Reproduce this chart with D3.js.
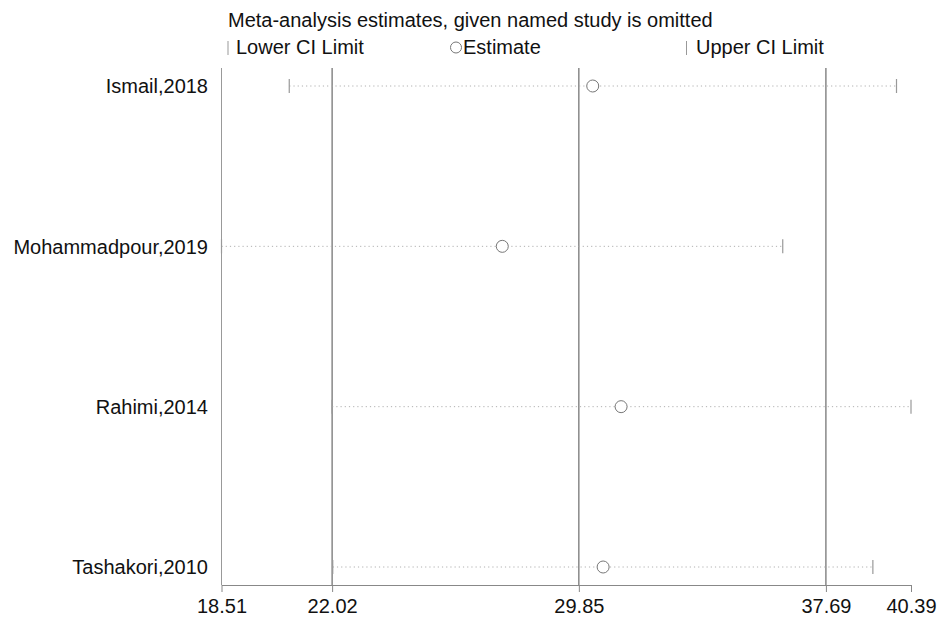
<!DOCTYPE html>
<html>
<head>
<meta charset="utf-8">
<script src="https://cdn.jsdelivr.net/npm/d3@7"></script>
<style>
  html, body { margin: 0; padding: 0; background: #fff; }
  svg { display: block; font-family: Arial, "Liberation Sans", sans-serif; }
</style>
</head>
<body>
<svg id="chart" width="940" height="617"></svg>
<script>
// Leave-one-out influence analysis: pooled estimate with each study omitted
const studies = ["Ismail,2018", "Mohammadpour,2019", "Rahimi,2014", "Tashakori,2010"];
const estimate = [30.29, 27.42, 31.19, 30.62];
const lowerCI = [20.66, 18.51, 22.02, 22.04];
const upperCI = [39.93, 36.32, 40.39, 39.18];

// Overall pooled result: lower limit, estimate, upper limit
const overall = [22.02, 29.85, 37.69];
const axisTicks = [18.51, 22.02, 29.85, 37.69, 40.39];

const titleText = "Meta-analysis estimates, given named study is omitted";
const legendLabels = ["Lower CI Limit", "Estimate", "Upper CI Limit"];

const svg = d3.select("#chart");
const plot = { left: 221.5, right: 911, top: 68, bottom: 585 };

const x = d3.scaleLinear().domain([axisTicks[0], axisTicks[axisTicks.length - 1]])
  .range([plot.left, plot.right]);
const y = d3.scalePoint().domain(studies).range([86, 567]);

// Title and legend
svg.append("text").attr("x", 228).attr("y", 27)
  .attr("font-size", 20).attr("fill", "#111").text(titleText);

const leg = svg.append("g");
leg.append("line").attr("x1", 228).attr("x2", 228).attr("y1", 41).attr("y2", 55)
  .attr("stroke", "#999").attr("stroke-width", 1);
leg.append("text").attr("x", 236).attr("y", 54).attr("font-size", 20).attr("fill", "#111")
  .text(legendLabels[0]);
leg.append("circle").attr("cx", 456).attr("cy", 47.5).attr("r", 5.5)
  .attr("fill", "#fff").attr("stroke", "#777");
leg.append("text").attr("x", 463).attr("y", 54).attr("font-size", 20).attr("fill", "#111")
  .text(legendLabels[1]);
leg.append("line").attr("x1", 686.5).attr("x2", 686.5).attr("y1", 41).attr("y2", 55)
  .attr("stroke", "#999").attr("stroke-width", 1);
leg.append("text").attr("x", 696).attr("y", 54).attr("font-size", 20).attr("fill", "#111")
  .text(legendLabels[2]);

// Left frame line
svg.append("line")
  .attr("x1", x(axisTicks[0])).attr("x2", x(axisTicks[0]))
  .attr("y1", plot.top).attr("y2", plot.bottom)
  .attr("stroke", "#999").attr("stroke-width", 1);

// Reference lines at the overall lower limit, estimate and upper limit
svg.append("g").selectAll("line").data(overall).join("line")
  .attr("x1", d => x(d)).attr("x2", d => x(d))
  .attr("y1", plot.top).attr("y2", plot.bottom)
  .attr("stroke", "#6a6a6a").attr("stroke-width", 1.2);

// Bottom axis
const axis = d3.axisBottom(x).tickValues(axisTicks)
  .tickFormat(d3.format(".2f")).tickSize(7).tickSizeOuter(0);
const gAxis = svg.append("g").attr("transform", `translate(0,${plot.bottom})`).call(axis);
gAxis.select(".domain").attr("stroke", "#888");
gAxis.selectAll(".tick line").attr("stroke", "#888");
gAxis.selectAll(".tick text").attr("font-size", 20).attr("fill", "#111")
  .attr("font-family", "Arial, 'Liberation Sans', sans-serif").attr("dy", "0.95em").attr("y", 9);

// Study labels
svg.append("g").selectAll("text").data(studies).join("text")
  .attr("x", 208).attr("y", d => y(d)).attr("dy", "0.36em")
  .attr("text-anchor", "end").attr("font-size", 20).attr("fill", "#111")
  .text(d => d);

// Dotted CI spans, end ticks and estimate markers
const rows = studies.map((s, i) => ({ s, est: estimate[i], lo: lowerCI[i], hi: upperCI[i] }));
const g = svg.append("g");
g.selectAll("line.span").data(rows).join("line").attr("class", "span")
  .attr("x1", d => x(d.lo)).attr("x2", d => x(d.hi))
  .attr("y1", d => y(d.s)).attr("y2", d => y(d.s))
  .attr("stroke", "#b0b0b0").attr("stroke-width", 1).attr("stroke-dasharray", "1.2,3");
g.selectAll("line.lo").data(rows).join("line").attr("class", "lo")
  .attr("x1", d => x(d.lo)).attr("x2", d => x(d.lo))
  .attr("y1", d => y(d.s) - 7).attr("y2", d => y(d.s) + 7)
  .attr("stroke", "#999").attr("stroke-width", 1.2);
g.selectAll("line.hi").data(rows).join("line").attr("class", "hi")
  .attr("x1", d => x(d.hi)).attr("x2", d => x(d.hi))
  .attr("y1", d => y(d.s) - 7).attr("y2", d => y(d.s) + 7)
  .attr("stroke", "#999").attr("stroke-width", 1.2);
g.selectAll("circle").data(rows).join("circle")
  .attr("cx", d => x(d.est)).attr("cy", d => y(d.s)).attr("r", 6)
  .attr("fill", "#fff").attr("stroke", "#777").attr("stroke-width", 1);
</script>
</body>
</html>
